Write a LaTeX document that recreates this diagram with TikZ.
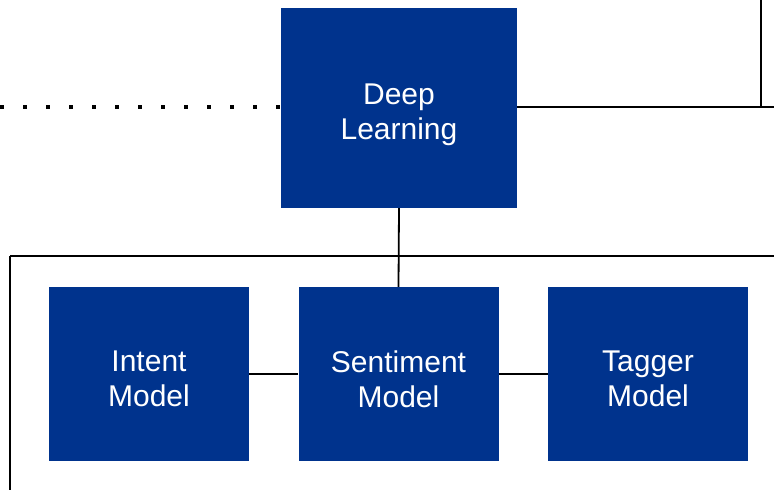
\documentclass[tikz,border=0pt]{standalone}
\usepackage{fontspec}
\setmainfont{Liberation Sans}
\definecolor{boxblue}{RGB}{0,51,141}
\begin{document}
\begin{tikzpicture}[x=1pt,y=-1pt,
  bluebox/.style={fill=boxblue,draw=none,inner sep=0pt},
  boxtext/.style={text=white,align=center,inner sep=0pt,
    font=\fontsize{30}{35}\selectfont},
  conn/.style={draw=black,line width=1.8pt}]
\useasboundingbox (0,0) rectangle (774,490);
\node[bluebox,minimum width=236pt,minimum height=200pt] (dl) at (399,108) {};
\node[bluebox,minimum width=200pt,minimum height=174pt] (im) at (149,374) {};
\node[bluebox,minimum width=200pt,minimum height=174pt] (sm) at (398.5,374) {};
\node[bluebox,minimum width=200pt,minimum height=174pt] (tm) at (648,374) {};
\node[boxtext] (dlt) at ([yshift=-6.5pt]dl.center) {Deep\\Learning};
\node[boxtext] (imt) at ([yshift=-5pt]im.center) {Intent\\Model};
\node[boxtext] (smt) at ([yshift=-5pt]sm.center) {Sentiment\\Model};
\node[boxtext] (tmt) at ([yshift=-5pt]tm.center) {Tagger\\Model};
\coordinate (dotL) at (0,107);
\coordinate (rR) at (774,107);
\coordinate (rC) at (761,107);
\coordinate (rT) at (761,0);
\coordinate (hL) at (10,256);
\coordinate (hR) at (774,256);
\coordinate (vB) at (10,490);
\draw[line width=4pt,dash pattern=on 4pt off 19pt] (dotL) -- (dl.west |- dotL);
\draw[conn] (dl.east |- rR) -- (rR);
\draw[conn] (rT) -- (rC);
\draw[conn] (dl.south) -- (sm.north);
\draw[conn] (hL) -- (hR);
\draw[conn] (hL) -- (vB);
\draw[conn] (im.east) -- (sm.west);
\draw[conn] (sm.east) -- (tm.west);
\end{tikzpicture}
\end{document}
